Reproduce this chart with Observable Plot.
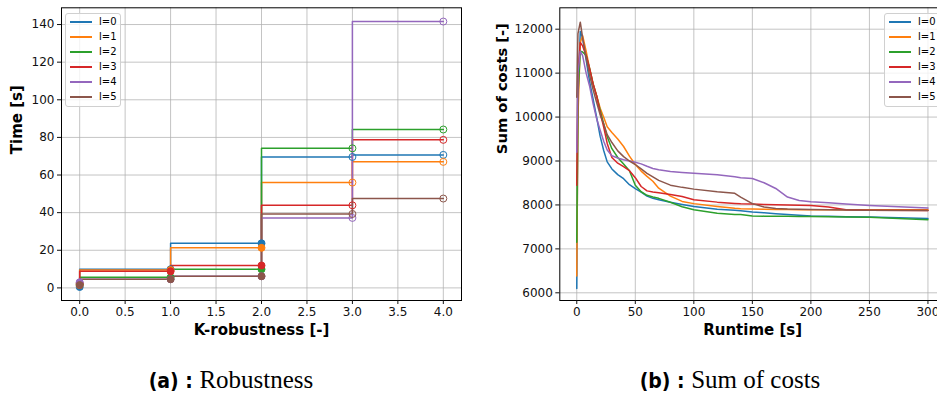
<!DOCTYPE html>
<html>
<head>
<meta charset="utf-8">
<script src="https://cdn.jsdelivr.net/npm/d3@7"></script>
<script src="https://cdn.jsdelivr.net/npm/@observablehq/plot@0.6"></script>
<style>
  html, body { margin: 0; padding: 0; background: #fff; }
  #wrap { position: relative; width: 937px; height: 399px; overflow: hidden; background: #fff; }
  .panel { position: absolute; top: 0; }
  .legend { position: absolute; background: rgba(255,255,255,0.8); border: 1px solid #d0d0d0; border-radius: 3px; box-sizing: border-box; font-family: "DejaVu Sans", sans-serif; font-size: 10px; color: #000; }
  .legend .row { position: absolute; left: 0; height: 14px; width: 100%; }
  .legend .sw { position: absolute; left: 3.5px; top: 6.5px; width: 22px; height: 1.6px; }
  .legend .lab { position: absolute; left: 33px; top: 0; line-height: 14px; white-space: nowrap; }
  .cap { position: absolute; top: 366px; width: 300px; text-align: center; white-space: nowrap; color: #000; }
  .cap .b { font-family: "DejaVu Sans Condensed", "DejaVu Sans", sans-serif; font-weight: bold; font-size: 21px; }
  .cap .r { font-family: "Liberation Serif", serif; font-size: 25px; }
</style>
</head>
<body>
<div id="wrap">
  <div id="left" class="panel" style="left:0;width:470px"></div>
  <div id="right" class="panel" style="left:470px;width:480px"></div>
</div>
<script>
// ---------- data ----------
const levels = ["l=0", "l=1", "l=2", "l=3", "l=4", "l=5"];
const palette = ["#1f77b4", "#ff7f0e", "#2ca02c", "#d62728", "#9467bd", "#8c564b"];

// (a) Robustness: time [s] per K-robustness
const kRobustness = [0, 1, 2, 3, 4];
const time_l0 = [0.5, 9.9, 23.7, 69.6, 70.7];
const time_l1 = [1.5, 9.5, 21.3, 56.0, 67.0];
const time_l2 = [2.0, 5.6, 9.9, 74.2, 84.2];
const time_l3 = [2.5, 8.8, 11.9, 43.9, 78.7];
const time_l4 = [3.0, 4.6, 6.2, 37.2, 141.6];
const time_l5 = [1.5, 4.6, 6.2, 39.3, 47.5];

// (b) Sum of costs over runtime [s]
const runtime = [0, 1, 3, 5, 8, 11, 14, 17, 20, 23, 26, 30, 35, 40, 45, 50, 55, 60, 65, 70, 80, 90, 100, 120, 135, 140, 150, 160, 170, 180, 190, 200, 215, 230, 250, 300];
const cost_l0 = [6100, 10500, 11950, 11800, 11300, 10800, 10400, 9990, 9560, 9238, 8980, 8820, 8690, 8597, 8460, 8370, 8290, 8200, 8150, 8120, 8060, 8010, 7965, 7900, 7880, 7870, 7840, 7820, 7800, 7780, 7765, 7750, 7740, 7730, 7723, 7690];
const cost_l1 = [6380, 10000, 11700, 11850, 11500, 11100, 10750, 10480, 10200, 9997, 9780, 9650, 9500, 9330, 9110, 8920, 8770, 8650, 8540, 8380, 8200, 8080, 8030, 7965, 7925, 7915, 7905, 7900, 7898, 7895, 7893, 7892, 7890, 7890, 7890, 7890];
const cost_l2 = [7150, 10500, 11500, 11480, 11400, 11100, 10750, 10480, 10150, 9845, 9550, 9280, 9080, 8930, 8780, 8450, 8300, 8220, 8180, 8150, 8060, 7960, 7890, 7810, 7785, 7780, 7750, 7745, 7742, 7740, 7739, 7738, 7733, 7728, 7720, 7665];
const cost_l3 = [8450, 11000, 11700, 11620, 11400, 11100, 10750, 10480, 10100, 9770, 9400, 9080, 8950, 8870, 8780, 8620, 8420, 8320, 8295, 8280, 8240, 8190, 8120, 8064, 8035, 8026, 8019, 8010, 8005, 8000, 7995, 7989, 7951, 7890, 7880, 7875];
const cost_l4 = [9200, 11000, 11500, 11400, 11000, 10700, 10300, 9960, 9700, 9450, 9250, 9120, 9070, 9030, 9000, 8970, 8935, 8880, 8830, 8800, 8760, 8740, 8720, 8688, 8640, 8620, 8600, 8505, 8375, 8180, 8100, 8070, 8050, 8020, 7989, 7928];
const cost_l5 = [10450, 11900, 12160, 11800, 11350, 10950, 10620, 10330, 10050, 9845, 9600, 9420, 9230, 9100, 9000, 8920, 8820, 8720, 8640, 8560, 8450, 8400, 8360, 8300, 8265, 8178, 8030, 7951, 7920, 7905, 7900, 7898, 7890, 7885, 7880, 7875];

// tick values
const kTicks = [0, 0.5, 1, 1.5, 2, 2.5, 3, 3.5, 4];
const timeTicks = [0, 20, 40, 60, 80, 100, 120, 140];
const runtimeTicks = [0, 50, 100, 150, 200, 250, 300];
const costTicks = [6000, 7000, 8000, 9000, 10000, 11000, 12000];

// ---------- tables ----------
const timeSeries = [time_l0, time_l1, time_l2, time_l3, time_l4, time_l5];
const costSeries = [cost_l0, cost_l1, cost_l2, cost_l3, cost_l4, cost_l5];
const robustRows = levels.flatMap((l, i) => kRobustness.map((k, j) => ({level: l, k, time: timeSeries[i][j]})));
const costRows = levels.flatMap((l, i) => runtime.map((t, j) => ({level: l, t, cost: costSeries[i][j]})));

const baseStyle = {fontFamily: "DejaVu Sans, sans-serif", fontSize: "12px", color: "#111", background: "transparent", overflow: "visible", maxWidth: "none"};
const gridStyle = {stroke: "#b0b0b0", strokeOpacity: 0.75, strokeWidth: 1};
const axisStyle = {tickSize: 4, tickPadding: 3, label: null, fontSize: 12, stroke: "#111"};
const labelStyle = {fontWeight: "bold", fontSize: 15, fill: "#000", lineAnchor: "middle"};

// ---------- (a) ----------
const left = Plot.plot({
  width: 470, height: 340,
  marginLeft: 61, marginRight: 9, marginTop: 7.3, marginBottom: 40,
  style: baseStyle,
  x: {domain: [-0.2, 4.2]},
  y: {domain: [-6.7, 148.9]},
  color: {domain: levels, range: palette},
  marks: [
    Plot.gridX({ticks: kTicks, ...gridStyle}),
    Plot.gridY({ticks: timeTicks, ...gridStyle}),
    Plot.line(robustRows, {x: "k", y: "time", z: "level", stroke: "level", curve: "step-before", strokeWidth: 1.5}),
    Plot.dot(robustRows, {filter: d => d.k < 3, x: "k", y: "time", stroke: "level", fill: "level", r: 3.5, strokeWidth: 1}),
    Plot.dot(robustRows, {filter: d => d.k >= 3, x: "k", y: "time", stroke: "level", fill: "none", r: 3.5, strokeWidth: 1}),
    Plot.frame({stroke: "#000", strokeWidth: 1}),
    Plot.axisX({ticks: kTicks, tickFormat: d3.format(".1f"), ...axisStyle}),
    Plot.axisY({ticks: timeTicks, tickFormat: d3.format("d"), ...axisStyle}),
    Plot.text(["K-robustness [-]"], {frameAnchor: "bottom", dy: 30, ...labelStyle}),
    Plot.text(["Time [s]"], {frameAnchor: "left", dx: -44, rotate: -90, ...labelStyle})
  ]
});
document.getElementById("left").appendChild(left);

// ---------- (b) ----------
const right = Plot.plot({
  width: 480, height: 340,
  marginLeft: 89.3, marginRight: 5, marginTop: 7.3, marginBottom: 40,
  style: baseStyle,
  x: {domain: [-14.5, 315]},
  y: {domain: [5825, 12487]},
  color: {domain: levels, range: palette},
  marks: [
    Plot.gridX({ticks: runtimeTicks, ...gridStyle}),
    Plot.gridY({ticks: costTicks, ...gridStyle}),
    Plot.line(costRows, {x: "t", y: "cost", z: "level", stroke: "level", strokeWidth: 1.5}),
    Plot.frame({stroke: "#000", strokeWidth: 1}),
    Plot.axisX({ticks: runtimeTicks, tickFormat: d3.format("d"), ...axisStyle}),
    Plot.axisY({ticks: costTicks, tickFormat: d3.format("d"), ...axisStyle}),
    Plot.text(["Runtime [s]"], {frameAnchor: "bottom", dy: 30, ...labelStyle}),
    Plot.text(["Sum of costs [-]"], {frameAnchor: "left", dx: -57.6, rotate: -90, ...labelStyle, fontSize: 14.7})
  ]
});
document.getElementById("right").appendChild(right);

// ---------- legends ----------
function legend(x, y, w) {
  const box = document.createElement("div");
  box.className = "legend";
  Object.assign(box.style, {left: x + "px", top: y + "px", width: w + "px", height: "94px"});
  levels.forEach((l, i) => {
    const row = document.createElement("div");
    row.className = "row";
    row.style.top = (1.3 + 15 * i) + "px";
    const sw = document.createElement("div");
    sw.className = "sw";
    sw.style.background = palette[i];
    const lab = document.createElement("div");
    lab.className = "lab";
    lab.textContent = l;
    row.appendChild(sw); row.appendChild(lab);
    box.appendChild(row);
  });
  document.getElementById("wrap").appendChild(box);
}
legend(65, 12.7, 55.5);
legend(884, 12.7, 60);

// ---------- captions ----------
function caption(cx, tag, text) {
  const c = document.createElement("div");
  c.className = "cap";
  c.style.left = (cx - 150) + "px";
  const b = document.createElement("span"); b.className = "b"; b.textContent = tag + " : ";
  const r = document.createElement("span"); r.className = "r"; r.textContent = text;
  c.appendChild(b); c.appendChild(r);
  document.getElementById("wrap").appendChild(c);
}
caption(231, "(a)", "Robustness");
caption(730, "(b)", "Sum of costs");
</script>
</body>
</html>
